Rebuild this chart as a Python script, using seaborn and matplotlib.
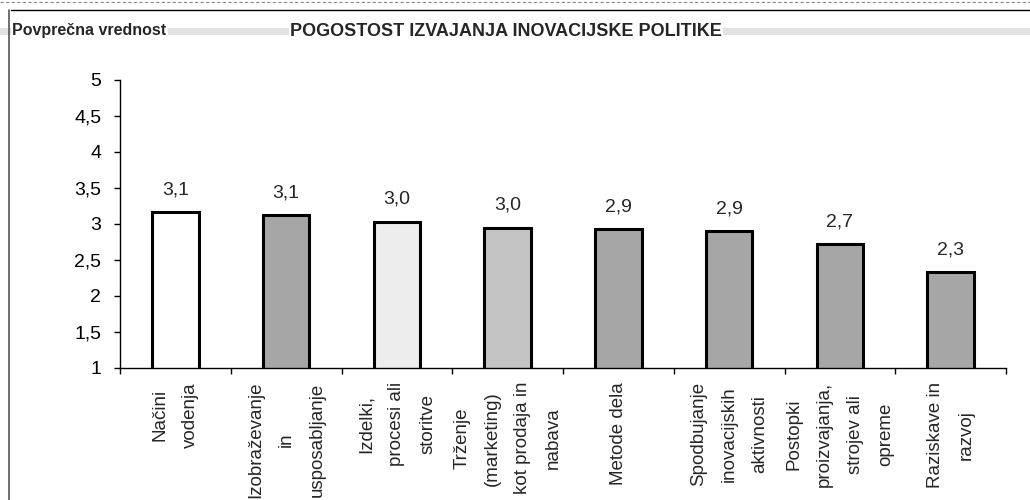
import numpy as np
import pandas as pd
import seaborn as sns
import matplotlib.pyplot as plt
from matplotlib.lines import Line2D
from matplotlib.patches import Rectangle


kategorije = [
    "Načini\nvodenja",
    "Izobraževanje\nin\nusposabljanje",
    "Izdelki,\nprocesi ali\nstoritve",
    "Trženje\n(marketing)\nkot prodaja in\nnabava",
    "Metode dela",
    "Spodbujanje\ninovacijskih\naktivnosti",
    "Postopki\nproizvajanja,\nstrojev ali\nopreme",
    "Raziskave in\nrazvoj",
]
vrednosti = [3.16, 3.12, 3.03, 2.95, 2.93, 2.90, 2.72, 2.33]
oznake = ["3,1", "3,1", "3,0", "3,0", "2,9", "2,9", "2,7", "2,3"]
barve = ["#ffffff", "#a6a6a6", "#ededed", "#c4c4c4",
         "#a6a6a6", "#a6a6a6", "#a6a6a6", "#a6a6a6"]
y_ticki = [1, 1.5, 2, 2.5, 3, 3.5, 4, 4.5, 5]
y_oznake = ["1", "1,5", "2", "2,5", "3", "3,5", "4", "4,5", "5"]

naslov = "POGOSTOST IZVAJANJA INOVACIJSKE POLITIKE"
os_y = "Povprečna vrednost"


sns.set_theme(style="white")
plt.rcParams["font.family"] = ["Liberation Sans", "DejaVu Sans"]

df = pd.DataFrame({"podrocje": kategorije, "vrednost": vrednosti})

W, H = 1030, 500
fig = plt.figure(figsize=(W / 100, H / 100), dpi=100)

# scan frame + grey band behind the heading row
fig.add_artist(Line2D([11 / W, 1], [1 - 10 / H] * 2, transform=fig.transFigure, color="black", lw=1))
fig.add_artist(Line2D([9 / W] * 2, [0, 1 - 10 / H], transform=fig.transFigure, color="#555555", lw=1.2))
fig.add_artist(Line2D([0, 1], [1 - 2 / H] * 2, transform=fig.transFigure, color="#888888", lw=0.8, ls=(0, (3, 2))))
fig.patches.append(Rectangle((0, 1 - 35 / H), 1, 7 / H, transform=fig.transFigure,
                             facecolor="#e2e2e2", edgecolor="none", zorder=0))

ax = fig.add_axes([120 / W, 1 - 368 / H, (1006 - 120) / W, (368 - 80) / H])
sns.barplot(data=df, x="podrocje", y="vrednost", hue="podrocje", palette=barve,
            legend=False, width=0.42, saturation=1, edgecolor="black", linewidth=2.2, ax=ax)

for cont, lab in zip(ax.containers, oznake):
    ax.bar_label(cont, labels=[lab], padding=10, fontsize=14)

ax.set_ylim(1, 5)
ax.set_xlim(-0.5, len(kategorije) - 0.5)
ax.set_yticks(y_ticki)
ax.set_yticklabels(y_oznake, fontsize=14)
ax.set_xticks(range(len(kategorije)))
ax.set_xticklabels(kategorije, rotation=90, fontsize=13.5, linespacing=2.05,
                   multialignment="center", ha="center", va="top")
ax.set_xticks(np.arange(-0.5, len(kategorije), 1), minor=True)
ax.tick_params(axis="x", which="major", length=0, pad=10)
ax.tick_params(axis="x", which="minor", bottom=True, length=4.5, width=1, color="black", direction="out")
ax.tick_params(axis="y", left=True, length=4.5, width=1, color="black", pad=9, labelcolor="black")
ax.set_xlabel("")
ax.set_ylabel("")
sns.despine(ax=ax)
for s in ["left", "bottom"]:
    ax.spines[s].set_color("black")
    ax.spines[s].set_linewidth(1)

fig.text(12 / W, 1 - 31 / H, os_y, fontsize=11.5, fontweight="bold", va="center", ha="left",
         bbox=dict(facecolor="white", edgecolor="none", pad=1))
fig.text(290 / W, 1 - 31 / H, naslov, fontsize=13, fontweight="bold", va="center", ha="left",
         bbox=dict(facecolor="white", edgecolor="none", pad=1))

fig.savefig("out.png", dpi=100)
